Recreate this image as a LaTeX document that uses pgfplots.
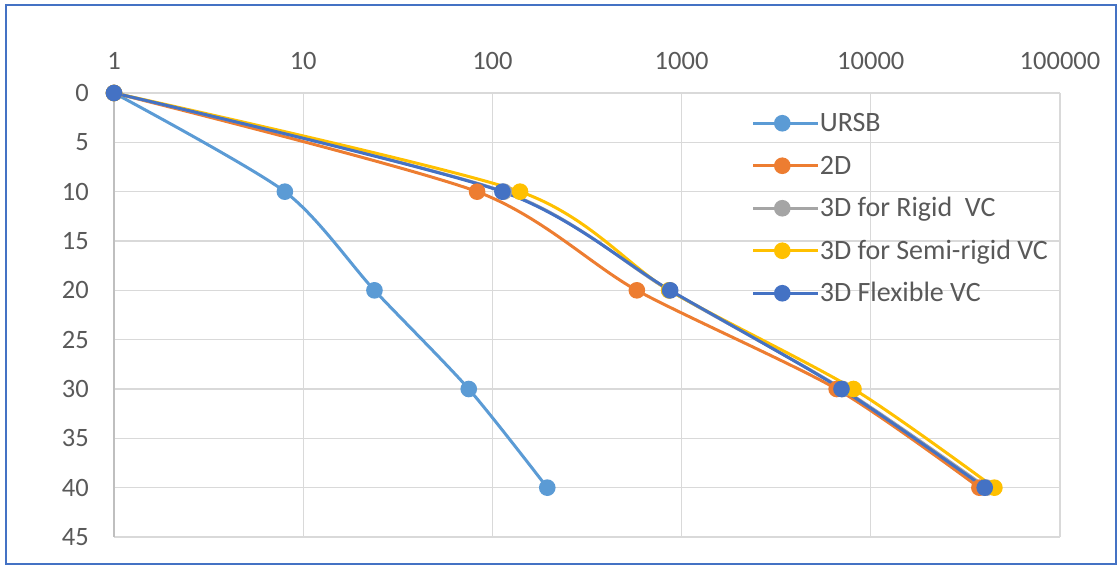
\documentclass[border=0pt]{standalone}
\usepackage{fontspec}
\setmainfont{Carlito}
\usepackage{pgfplots}
\pgfplotsset{compat=1.18}

\definecolor{cURSB}{HTML}{5B9BD5}
\definecolor{cTwoD}{HTML}{ED7D31}
\definecolor{cRigid}{HTML}{A5A5A5}
\definecolor{cSemi}{HTML}{FFC000}
\definecolor{cFlex}{HTML}{4472C4}
\definecolor{gridc}{HTML}{D9D9D9}
\definecolor{axisc}{HTML}{BFBFBF}
\definecolor{textc}{HTML}{595959}

\begin{document}
\begin{tikzpicture}
\path (-114pt,-30pt) rectangle (1005pt,537pt);
\begin{axis}[
  scale only axis,
  width=946pt, height=444pt,
  at={(0pt,0pt)}, anchor=south west,
  xmode=log, log basis x=10,
  xmin=1, xmax=100000,
  ymin=0, ymax=45, y dir=reverse,
  xtick={1,10,100,1000,10000,100000},
  xticklabels={1,10,100,1000,10000,100000},
  ytick={0,5,...,45},
  xticklabel pos=upper,
  minor xtick={}, minor x tick num=0,
  major tick length=0pt,
  xmajorgrids, ymajorgrids,
  grid style={color=gridc, line width=1.3pt},
  axis line style={draw=none},
  extra x ticks={1},
  extra x tick labels={},
  extra x tick style={grid style={color=axisc, line width=1.8pt}},
  /pgf/number format/assume math mode=true,
  tick label style={font=\fontsize{26.5}{30}\selectfont, text=textc},
  xticklabel style={anchor=south, inner sep=0pt, yshift=23pt},
  yticklabel style={anchor=east, inner sep=0pt, xshift=-25pt},
  every axis plot/.append style={line width=3pt, smooth, tension=0.45,
    mark=*, mark size=6.8pt},
  legend style={at={(0.674,0.956)}, anchor=north west, draw=none, fill=none,
    font=\fontsize{28}{31}\selectfont, text=textc,
    row sep=17.5pt, inner sep=0pt,
    nodes={inner sep=0pt, anchor=base west, text height=19pt, text depth=6pt}},
  legend cell align=left,
  legend image code/.code={
    \draw[#1, mark=none] (0pt,8.5pt) -- (58pt,8.5pt);
    \path[#1] plot coordinates {(29pt,8.5pt)};
    \path (58pt,8.5pt) -- (65pt,8.5pt);
  },
]
% URSB
\addplot[color=cURSB, mark options={fill=cURSB, draw=cURSB}]
  coordinates {(1,0) (8.0,10) (23.8,20) (75,30) (195,40)};
% 2D
\addplot[color=cTwoD, mark options={fill=cTwoD, draw=cTwoD}]
  coordinates {(1,0) (83,10) (580,20) (6600,30) (37500,40)};
% 3D rigid
\addplot[color=cRigid, mark options={fill=cRigid, draw=cRigid}]
  coordinates {(1,0) (115,10) (860,20) (7100,30) (41000,40)};
% 3D semi-rigid
\addplot[color=cSemi, mark options={fill=cSemi, draw=cSemi}]
  coordinates {(1,0) (140,10) (860,20) (8100,30) (45000,40)};
% 3D flexible
\addplot[color=cFlex, mark options={fill=cFlex, draw=cFlex}]
  coordinates {(1,0) (113,10) (870,20) (7000,30) (40000,40)};
\legend{URSB, 2D, 3D for Rigid\ \ VC, 3D for Semi-rigid VC, 3D Flexible VC}
\end{axis}
\draw[color=cFlex, line width=2pt] (-108pt,-27pt) rectangle (1002pt,532pt);
\end{tikzpicture}
\end{document}
